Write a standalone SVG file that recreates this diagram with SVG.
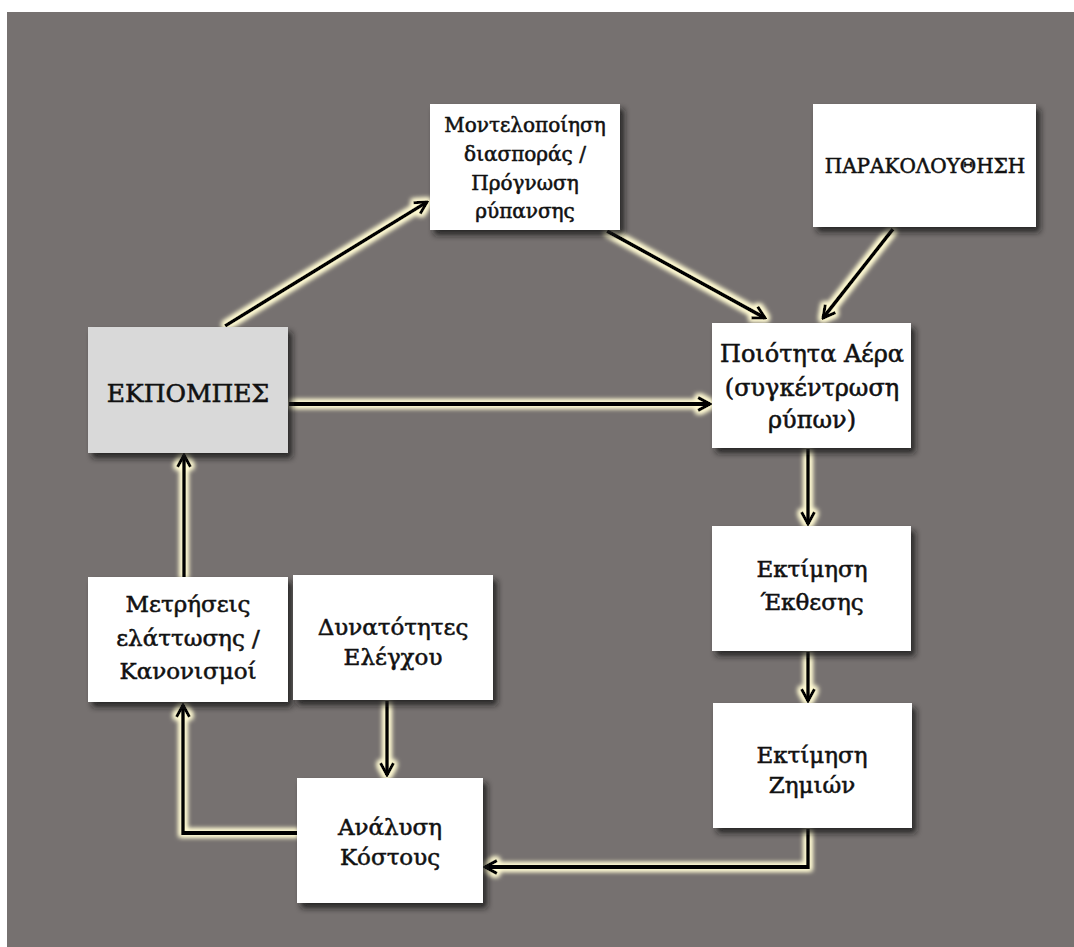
<svg xmlns="http://www.w3.org/2000/svg" width="1074" height="947" viewBox="0 0 1074 947">
<style>
.box{fill:#ffffff;filter:url(#shadow)}
.grey{fill:#d9d9d9}
.t{font-family:"DejaVu Serif","Liberation Serif",serif;fill:#111;stroke:#111;stroke-width:0.55;text-anchor:middle}
.c{fill:none;stroke:#000;stroke-width:3.8;marker-end:url(#ah)}
</style>
<defs>
<filter id="shadow" x="-10%" y="-10%" width="130%" height="130%">
<feDropShadow dx="4" dy="5" stdDeviation="3" flood-color="#141414" flood-opacity="0.85"/>
</filter>
<filter id="glow" filterUnits="userSpaceOnUse" x="0" y="0" width="1074" height="947">
<feMorphology in="SourceAlpha" operator="dilate" radius="2.2" result="d"/>
<feGaussianBlur in="d" stdDeviation="2.4" result="b"/>
<feFlood flood-color="#fffad2"/>
<feComposite in2="b" operator="in" result="g"/>
<feMerge><feMergeNode in="g"/><feMergeNode in="g"/><feMergeNode in="SourceGraphic"/></feMerge>
</filter>
<marker id="ah" viewBox="0 0 16 16" refX="14" refY="8" markerWidth="16" markerHeight="16" markerUnits="userSpaceOnUse" orient="auto">
<path d="M2,1.5 L14,8 L2,14.5" fill="none" stroke="#000" stroke-width="3.2" stroke-linejoin="miter"/>
</marker>
</defs>
<rect x="0" y="0" width="1074" height="947" fill="#ffffff"/>
<rect x="7" y="12" width="1067" height="935" fill="#767170"/>

<g id="connectors" filter="url(#glow)">
<path class="c" d="M225,326 L427,202"/>
<path class="c" d="M607,231 L765,318"/>
<path class="c" d="M893,229 L823,318"/>
<path class="c" d="M289,404 L710,404"/>
<path class="c" d="M808,449 L808,524"/>
<path class="c" d="M808,652 L808,701"/>
<path class="c" d="M808,829 L808,867 L485,867"/>
<path class="c" d="M297,833 L183,833 L183,705"/>
<path class="c" d="M184,577 L184,455"/>
<path class="c" d="M387,701 L387,775"/>
</g>

<g id="n-modelling">
<rect class="box" x="430" y="104" width="190" height="126"/>
<text class="t" font-size="20"><tspan x="525" y="132">Μοντελοποίηση</tspan><tspan x="525" y="161">διασποράς /</tspan><tspan x="525" y="190">Πρόγνωση</tspan><tspan x="525" y="218">ρύπανσης</tspan></text>
</g>
<g id="n-monitoring">
<rect class="box" x="813" y="104" width="223" height="123"/>
<text class="t" font-size="20" x="925" y="173">ΠΑΡΑΚΟΛΟΥΘΗΣΗ</text>
</g>
<g id="n-emissions">
<rect class="box grey" x="88" y="327" width="200" height="126"/>
<text class="t" font-size="25" x="188" y="402">ΕΚΠΟΜΠΕΣ</text>
</g>
<g id="n-airquality">
<rect class="box" x="712" y="323" width="199" height="125"/>
<text class="t" font-size="24"><tspan x="812" y="362">Ποιότητα Αέρα</tspan><tspan x="812" y="396">(συγκέντρωση</tspan><tspan x="812" y="428">ρύπων)</tspan></text>
</g>
<g id="n-exposure">
<rect class="box" x="712" y="526" width="199" height="125"/>
<text class="t" font-size="23"><tspan x="812" y="577">Εκτίμηση</tspan><tspan x="812" y="610">Έκθεσης</tspan></text>
</g>
<g id="n-damage">
<rect class="box" x="713" y="703" width="199" height="125"/>
<text class="t" font-size="23"><tspan x="812" y="763">Εκτίμηση</tspan><tspan x="812" y="793">Ζημιών</tspan></text>
</g>
<g id="n-measures">
<rect class="box" x="88" y="577" width="200" height="125"/>
<text class="t" font-size="23"><tspan x="188" y="612">Μετρήσεις</tspan><tspan x="188" y="646">ελάττωσης /</tspan><tspan x="188" y="679">Κανονισμοί</tspan></text>
</g>
<g id="n-control">
<rect class="box" x="293" y="575" width="200" height="125"/>
<text class="t" font-size="23"><tspan x="393" y="635">Δυνατότητες</tspan><tspan x="393" y="665">Ελέγχου</tspan></text>
</g>
<g id="n-cost">
<rect class="box" x="297" y="778" width="186" height="125"/>
<text class="t" font-size="23"><tspan x="390" y="835">Ανάλυση</tspan><tspan x="390" y="865">Κόστους</tspan></text>
</g>
</svg>
